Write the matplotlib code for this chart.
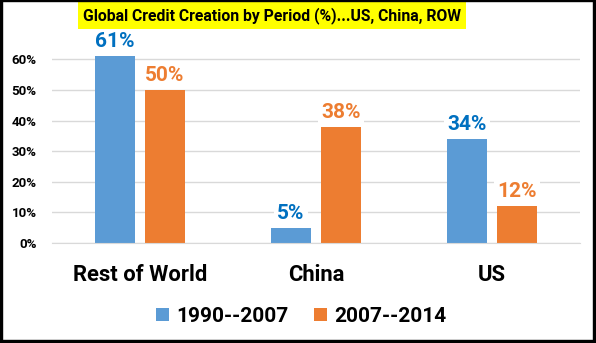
import matplotlib
matplotlib.use("Agg")
import matplotlib.pyplot as plt
import numpy as np
from matplotlib.patches import Rectangle

categories = ["Rest of World", "China", "US"]
series_names = ["1990--2007", "2007--2014"]
period_1990_2007 = [0.61, 0.05, 0.34]
period_2007_2014 = [0.50, 0.38, 0.12]
y_ticks = [0.0, 0.1, 0.2, 0.3, 0.4, 0.5, 0.6]
title = "Global Credit Creation by Period (%)...US, China, ROW"

bar_colors = ["#5B9BD5", "#ED7D31"]
label_colors = ["#0070C0", "#ED7D31"]
grid_color = "#D9D9D9"
font = "Roboto"

W, H = 596, 343
fig = plt.figure(figsize=(W / 100, H / 100), dpi=100)
fig.patch.set_facecolor("white")

ax = fig.add_axes([52 / W, 1 - 243 / H, 528 / W, 214.2 / H])
x = np.arange(len(categories))
width = 0.222
offset = 0.142

for i, (vals, name) in enumerate(zip([period_1990_2007, period_2007_2014], series_names)):
    pos = x + (-offset if i == 0 else offset)
    bars = ax.bar(pos, vals, width, color=bar_colors[i], label=name, zorder=2)
    for b, v in zip(bars, vals):
        ax.annotate(f"{round(v * 100)}%", (b.get_x() + b.get_width() / 2, v),
                    xytext=(0, 3.5), textcoords="offset points",
                    ha="center", va="bottom", fontsize=15, fontweight="bold",
                    family=font, color=label_colors[i], zorder=4,
                    bbox=dict(boxstyle="square,pad=0.15", fc="white", ec="none"))

ax.set_xlim(-0.5, len(categories) - 0.5)
ax.set_ylim(0, 0.7)
ax.set_yticks(y_ticks)
ax.set_yticklabels([f"{round(t * 100)}%" for t in y_ticks],
                   fontsize=9.5, fontweight="bold", family=font)
ax.yaxis.grid(True, color=grid_color, linewidth=1, zorder=0)
ax.set_axisbelow(True)
ax.tick_params(axis="y", length=0, pad=11)
ax.set_xticks(x)
ax.set_xticklabels(categories, fontsize=15.8, fontweight="bold", family=font)
ax.tick_params(axis="x", length=0, pad=15)
for s in ["top", "right", "left"]:
    ax.spines[s].set_visible(False)
ax.spines["bottom"].set_color(grid_color)

leg = fig.legend(loc="center", bbox_to_anchor=(301 / W, 1 - 316 / H), ncol=2,
                 frameon=False, prop=dict(family=font, weight="bold", size=15),
                 handlelength=0.6, handleheight=0.6, handletextpad=0.35,
                 columnspacing=1.25)

fig.text(272 / W, 1 - 15.5 / H, title, ha="center", va="center",
         fontsize=11.3, fontweight="bold", family=font, color="black", zorder=5,
         bbox=dict(boxstyle="square,pad=0.3", fc="#FFFF00", ec="none"))

# black frame around the whole figure
for (x0, y0, w, h) in [(0, 0, 2, H), (0, H - 1, W, 1), (W - 3, 0, 3, H), (0, 0, W, 3)]:
    fig.patches.append(Rectangle((x0 / W, y0 / H), w / W, h / H,
                                 transform=fig.transFigure, color="black", zorder=10))

fig.savefig("out.png", dpi=100)
